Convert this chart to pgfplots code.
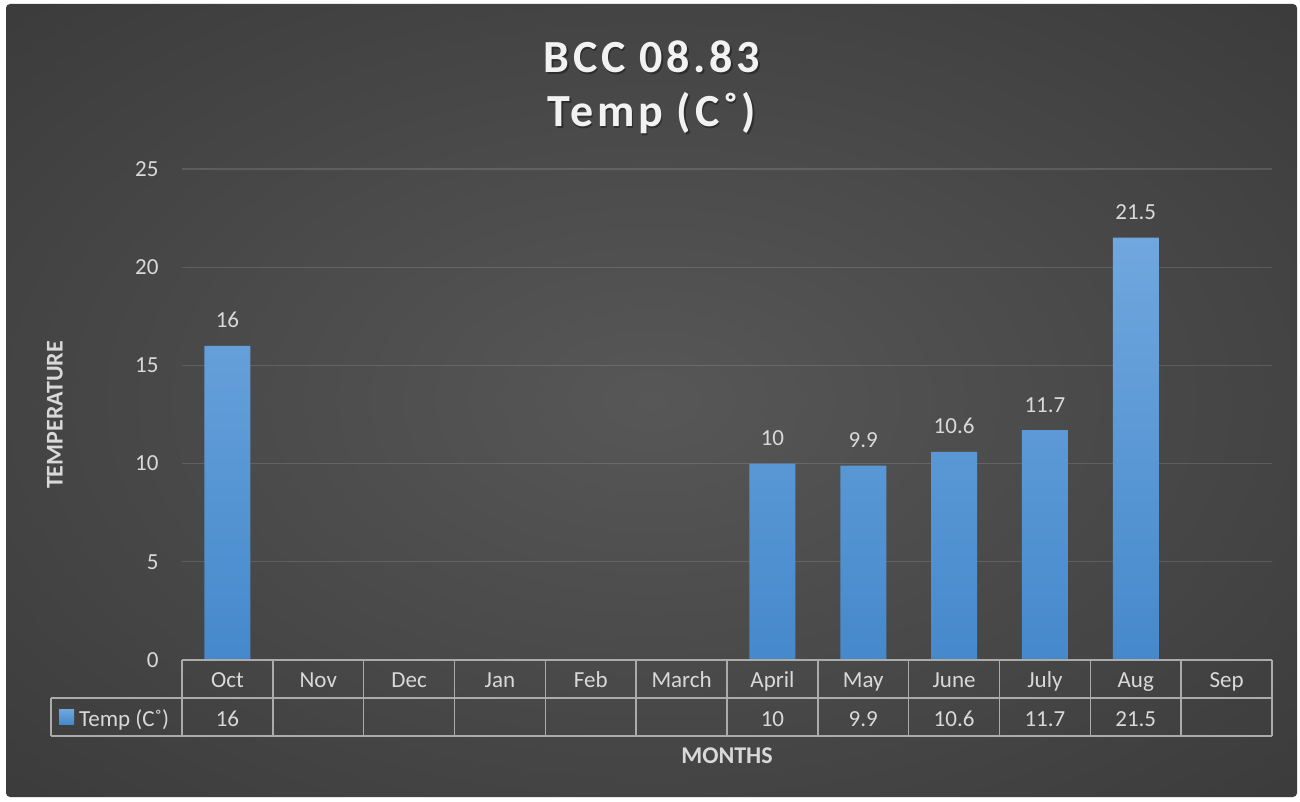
\documentclass[border=0pt]{standalone}
\usepackage{pgfplots}
\pgfplotsset{compat=1.18}
\usepackage{pgfplotstable}
\usepackage{fontspec}
\setmainfont{Carlito}
\newfontfamily\titlefont[LetterSpace=8]{Carlito}

\definecolor{bgin}{HTML}{575757}
\definecolor{bgmid}{HTML}{303030}
\definecolor{bgout}{HTML}{252525}
\definecolor{barTop}{HTML}{70A7DE}
\definecolor{barBot}{HTML}{4589CC}
\definecolor{txt}{HTML}{D9D9D9}
\definecolor{tablegrid}{HTML}{ABABAB}

\pgfdeclareradialshading{bgshade}{\pgfpoint{0bp}{0bp}}{color(0bp)=(bgin); color(50bp)=(bgmid); color(71bp)=(bgout)}

% months run Oct..Sep, x = 0..11
\pgfplotstableread{
x  month  temp
0  Oct    16
1  Nov    nan
2  Dec    nan
3  Jan    nan
4  Feb    nan
5  March  nan
6  April  10
7  May    9.9
8  June   10.6
9  July   11.7
10 Aug    21.5
11 Sep    nan
}\tempdata

\begin{document}
\begin{tikzpicture}[x=1bp,y=1bp]
  \fill[white] (0,0) rectangle (1300,801);
  \shade[shading=bgshade, rounded corners=4bp] (6,4) rectangle (1297,797);

  \begin{axis}[
    at={(182bp,141bp)}, anchor=south west,
    scale only axis, width=1090bp, height=491bp,
    xmin=-0.5, xmax=11.5, ymin=0, ymax=25,
    axis line style={draw=none},
    major tick length=0pt,
    ytick={0,5,...,25},
    ymajorgrids,
    grid style={draw=white, opacity=0.13, line width=1.2bp},
    xtick={0,...,11},
    xticklabels={Oct,Nov,Dec,Jan,Feb,March,April,May,June,July,Aug,Sep},
    xticklabel style={anchor=base, yshift=-28bp},
    yticklabel style={anchor=east, xshift=-20bp},
    extra x ticks={0,6,7,8,9,10},
    extra x tick labels={16,10,9.9,10.6,11.7,21.5},
    extra x tick style={xmajorgrids=false, xticklabel style={yshift=-38bp}},
    tick label style={font=\fontsize{23bp}{27bp}\selectfont, text=txt},
    /pgf/number format/assume math mode=true,
    clip=false,
  ]
    \addplot[ybar, bar width=46bp, draw=none, top color=barTop, bottom color=barBot,
      nodes near coords,
      every node near coord/.append style={font=\fontsize{23bp}{27bp}\selectfont, text=txt, anchor=base, yshift=18bp}]
      table[x=x, y=temp] {\tempdata};
  \end{axis}

  % data table grid
  \begin{scope}[draw=tablegrid, line width=1.5bp]
    \draw (182,141) -- (1272,141);
    \draw (51,103) -- (1272,103);
    \draw (51,65) -- (1272,65);
    \draw (51,103) -- (51,65);
    \foreach \k in {0,...,12} {
      \draw ({182+\k*90.8333},141) -- ({182+\k*90.8333},65);
    }
  \end{scope}
  \fill[top color=barTop, bottom color=barBot] (59,77) rectangle (74,92);
  \node[anchor=base west, inner sep=0pt, text=txt, font=\fontsize{23bp}{27bp}\selectfont] at (79,75) {Temp (C˚)};

  % titles, with a soft shadow
  \foreach \t/\b in {BCC 08.83/728, Temp (C˚)/674} {
    \node[anchor=base, inner sep=0pt, text=black, opacity=0.35, font=\titlefont\bfseries\fontsize{46bp}{50bp}\selectfont] at (653.5,\b-1.5) {\t};
    \node[anchor=base, inner sep=0pt, text=white!95!black, font=\titlefont\bfseries\fontsize{46bp}{50bp}\selectfont] at (652,\b) {\t};
  }
  \node[rotate=90, text=txt, font=\bfseries\fontsize{24bp}{28bp}\selectfont] at (55,386) {TEMPERATURE};
  \node[text=txt, font=\bfseries\fontsize{24bp}{28bp}\selectfont] at (727,45) {MONTHS};
\end{tikzpicture}
\end{document}
